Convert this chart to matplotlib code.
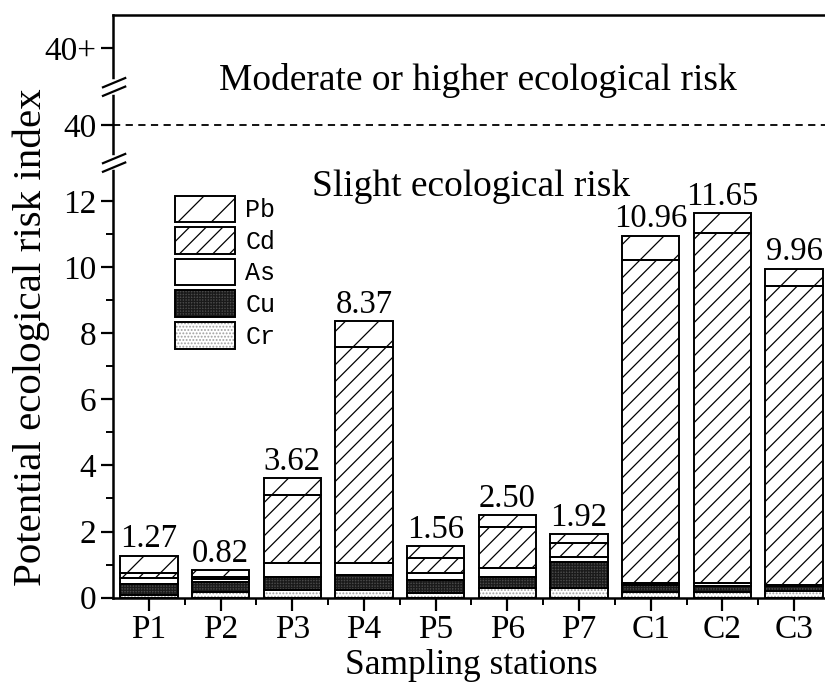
import numpy as np
import matplotlib
matplotlib.use("Agg")
import matplotlib.pyplot as plt
from matplotlib.patches import Patch
from matplotlib.legend_handler import HandlerTuple

plt.rcParams['font.family'] = ['Liberation Serif', 'DejaVu Serif']
plt.rcParams['hatch.linewidth'] = 0.9

# data: potential ecological risk of each metal, stacked bottom to top
stations = ['P1', 'P2', 'P3', 'P4', 'P5', 'P6', 'P7', 'C1', 'C2', 'C3']
cr = [0.09, 0.18, 0.23, 0.23, 0.13, 0.28, 0.28, 0.18, 0.18, 0.20]
cu = [0.31, 0.30, 0.38, 0.45, 0.40, 0.35, 0.79, 0.20, 0.17, 0.15]
as_ = [0.19, 0.07, 0.43, 0.37, 0.20, 0.27, 0.17, 0.07, 0.08, 0.03]
cd = [0.14, 0.06, 2.07, 6.54, 0.46, 1.25, 0.40, 9.78, 10.61, 9.06]
pb = [0.54, 0.21, 0.51, 0.78, 0.37, 0.35, 0.28, 0.73, 0.61, 0.52]
totals = ['1.27', '0.82', '3.62', '8.37', '1.56', '2.50', '1.92', '10.96', '11.65', '9.96']

# broken y axis: positions on the drawing scale for 40 and 40+
y_40 = 14.32
y_40p = 16.65
y_top = 17.65

fig = plt.figure(figsize=(8.25, 6.91), dpi=100)
ax = fig.add_axes([0.137, 0.1353, 0.869, 0.843])

x = np.arange(1, len(stations) + 1)
w = 0.8

# fill styles: (face, hatch colour, hatch)
styles = {
    'Cr': ('white', '#a0a0a0', '.....'),
    'Cu': ('#4a4a4a', '#1a1a1a', '++++++'),
    'As': ('white', 'black', ''),
    'Cd': ('white', 'black', '//'),
    'Pb': ('white', 'black', '/'),
}
layers = [('Cr', cr), ('Cu', cu), ('As', as_), ('Cd', cd), ('Pb', pb)]

bottom = np.zeros(len(stations))
for name, vals in layers:
    fc, hc, h = styles[name]
    ax.bar(x, vals, w, bottom=bottom, facecolor=fc, edgecolor=hc, hatch=h,
           linewidth=0, zorder=2)
    ax.bar(x, vals, w, bottom=bottom, fill=False, edgecolor='black',
           linewidth=1.4, zorder=3)
    bottom = bottom + np.array(vals)

for xi, top, lab in zip(x, bottom, totals):
    ax.annotate(lab, (xi, top), xytext=(0, 1), textcoords='offset points',
                ha='center', va='bottom', fontsize=23.5)

ax.set_xlim(0.5, 10.5)
ax.set_ylim(0, y_top)
ax.set_xticks(x)
ax.set_xticklabels(stations)
ax.set_xticks(np.arange(1.5, 10.5, 1), minor=True)
ax.set_yticks([0, 2, 4, 6, 8, 10, 12, y_40, y_40p])
ax.set_yticklabels(['0', '2', '4', '6', '8', '10', '12', '40', '40+'])
ax.set_yticks([1, 3, 5, 7, 9, 11], minor=True)
ax.tick_params(axis='both', which='major', direction='out', length=9, width=1.6,
               labelsize=24, pad=3)
ax.tick_params(axis='both', which='minor', direction='out', length=5, width=1.4)

for s in ['left', 'top', 'bottom', 'right']:
    ax.spines[s].set_linewidth(1.8)

ax.set_xlabel('Sampling stations', fontsize=25.5, labelpad=3)
ax.set_ylabel('Potential ecological risk index', fontsize=29.5)
ax.yaxis.set_label_coords(-0.088, 0.447)

# threshold line and risk regions
ax.axhline(y_40, color='black', linestyle=(0, (4, 3)), linewidth=1.3, zorder=1)
ax.text(0.509, 15.68, 'Moderate or higher ecological risk', transform=ax.get_yaxis_transform(),
        ha='center', va='center', fontsize=27)
ax.text(0.499, 12.45, 'Slight ecological risk', transform=ax.get_yaxis_transform(),
        ha='center', va='center', fontsize=27)

# break marks on the y axis
tr = ax.get_yaxis_transform()
for yb in [13.17, 15.47]:
    ax.plot([0, 0], [yb - 0.14, yb + 0.14], color='white', linewidth=4,
            transform=tr, clip_on=False, zorder=5)
    for dy in [-0.13, 0.13]:
        ax.plot([-0.014, 0.017], [yb + dy - 0.14, yb + dy + 0.14], color='black',
                linewidth=1.6, transform=tr, clip_on=False, zorder=6)

# legend
handles = []
for name in ['Pb', 'Cd', 'As', 'Cu', 'Cr']:
    fc, hc, h = styles[name]
    handles.append((Patch(facecolor=fc, edgecolor=hc, hatch=h, linewidth=0),
                    Patch(fill=False, edgecolor='black', linewidth=1.4)))
ax.legend(handles, ['Pb', 'Cd', 'As', 'Cu', 'Cr'],
          handler_map={tuple: HandlerTuple(ndivide=1, pad=0)},
          loc='upper left', bbox_to_anchor=(0.087, 0.69), frameon=False,
          prop={'family': 'Liberation Mono', 'size': 18},
          handlelength=2.4, handleheight=1.25, labelspacing=0.2, handletextpad=0.4,
          borderaxespad=0, borderpad=0)

fig.savefig('out.png', dpi=100)
